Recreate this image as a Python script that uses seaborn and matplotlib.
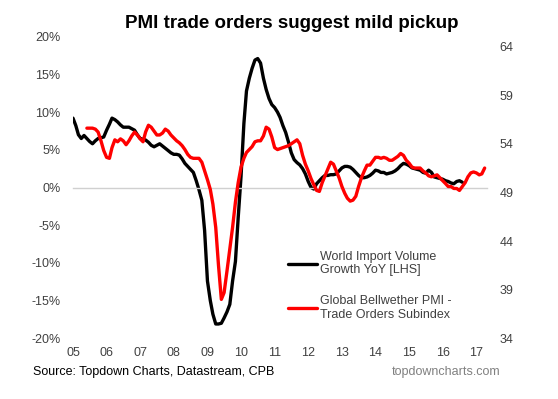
import pandas as pd
import matplotlib.pyplot as plt
import seaborn as sns

# === Data (monthly) ===
# World import volume growth YoY, %, Jan 2005 - Aug 2016
import_growth = [
    9.2, 8.2, 7.0, 6.5, 6.9, 6.5, 6.1, 5.8, 6.2, 6.5, 6.6, 6.7,
    7.6, 8.4, 9.2, 9.0, 8.7, 8.3, 8.0, 8.0, 8.0, 7.8, 7.6, 7.0,
    6.5, 6.4, 6.3, 6.0, 5.6, 5.4, 5.6, 5.8, 5.5, 5.2, 4.9, 4.6,
    4.4, 4.4, 4.3, 3.8, 3.2, 2.8, 2.4, 2.0, 0.9, -0.3, -1.7, -5.7,
    -12.4, -15.0, -16.8, -18.1, -18.1, -18.0, -17.3, -16.5, -15.5, -12.4, -9.8, -4.0,
    1.5, 8.5, 12.8, 14.5, 15.8, 16.9, 17.1, 16.5, 14.5, 13.0, 11.8, 11.0,
    10.6, 10.0, 9.3, 8.2, 7.3, 6.0, 4.6, 3.7, 3.3, 3.0, 2.5, 1.8,
    0.8, 0.0, -0.2, 0.5, 0.9, 1.3, 1.6, 1.6, 1.7, 1.7, 1.8, 2.2,
    2.6, 2.8, 2.8, 2.7, 2.4, 2.0, 1.6, 1.3, 1.3, 1.4, 1.6, 1.9,
    2.3, 2.2, 2.0, 2.0, 1.8, 1.9, 2.0, 2.2, 2.5, 2.9, 3.2, 3.1,
    2.9, 2.6, 2.5, 2.4, 2.3, 2.0, 1.9, 2.3, 2.0, 1.4, 1.3, 1.2,
    1.1, 0.9, 0.8, 0.6, 0.5, 0.8, 0.9, 0.7,
]
# Global Bellwether PMI - trade orders subindex, Jun 2005 - Apr 2017
pmi_trade = [
    55.6, 55.6, 55.6, 55.5, 55.2, 54.3, 53.3,
    52.6, 52.5, 53.6, 54.4, 54.2, 54.5, 54.3, 53.9, 54.3, 54.8, 55.2, 54.9,
    54.5, 54.2, 55.2, 55.9, 55.7, 55.3, 54.9, 54.9, 55.1, 55.5, 55.3, 54.9,
    54.6, 54.3, 54.1, 53.8, 53.4, 52.9, 52.6, 52.5, 52.5, 52.5, 52.1, 51.2,
    50.3, 49.3, 47.8, 45.4, 41.5, 38.0, 38.7, 40.9, 43.2, 45.4, 48.0, 50.0,
    51.6, 52.5, 53.1, 53.4, 53.7, 54.2, 54.3, 54.3, 54.8, 55.7, 55.5, 54.7,
    53.6, 53.4, 53.5, 53.6, 53.7, 53.8, 54.0, 54.2, 54.4, 54.0, 52.8, 51.9,
    51.2, 50.4, 49.8, 49.2, 49.1, 50.0, 50.7, 51.4, 52.1, 51.9, 51.2, 50.5,
    49.6, 48.9, 48.4, 48.1, 48.2, 48.6, 49.6, 50.5, 51.2, 51.8, 51.8, 52.2,
    52.6, 52.6, 52.5, 52.6, 52.5, 52.3, 52.3, 52.5, 52.7, 53.0, 52.8, 52.3,
    52.0, 51.6, 51.5, 51.5, 51.5, 51.2, 51.0, 50.7, 50.6, 50.7, 50.8, 50.5,
    50.2, 49.9, 49.6, 49.6, 49.4, 49.4, 49.2, 49.6, 50.0, 50.6, 51.0, 51.1,
    51.0, 50.8, 50.9, 51.5,
]
year_labels = ["05", "06", "07", "08", "09", "10", "11", "12", "13", "14", "15", "16", "17"]
left_ticks = [-20, -15, -10, -5, 0, 5, 10, 15, 20]
right_ticks = [34, 39, 44, 49, 54, 59, 64]

black_df = pd.DataFrame({
    "date": pd.date_range("2005-01-01", periods=len(import_growth), freq="MS"),
    "value": import_growth,
})
red_df = pd.DataFrame({
    "date": pd.date_range("2005-06-01", periods=len(pmi_trade), freq="MS"),
    "value": pmi_trade,
})
year_ticks = pd.date_range("2005-01-01", "2017-01-01", freq="YS")

# === Style ===
sns.set_style("white")
plt.rcParams['font.family'] = ['Liberation Sans', 'DejaVu Sans']
plt.rcParams['axes.unicode_minus'] = False
TXT = "#404040"
AXIS_GREY = "#d0d0d0"

fig = plt.figure(figsize=(5.58, 3.99), dpi=100)
ax = fig.add_axes([0.1308, 0.1521, 0.7419, 0.7559])

sns.lineplot(data=black_df, x="date", y="value", ax=ax, color="black",
             linewidth=2.4, legend=False)
ax2 = ax.twinx()
sns.lineplot(data=red_df, x="date", y="value", ax=ax2, color="#ff0000",
             linewidth=2.4, legend=False)

ax.set_xlim(pd.Timestamp("2005-01-01"), pd.Timestamp("2017-04-26"))
ax.set_ylim(-20, 20)
ax2.set_ylim(34, 65)

for a in (ax, ax2):
    for s in a.spines.values():
        s.set_visible(False)
    a.set_xlabel("")
    a.set_ylabel("")

# zero line with year ticks
ax.spines['bottom'].set_visible(True)
ax.spines['bottom'].set_position(('data', 0))
ax.spines['bottom'].set_color(AXIS_GREY)
ax.spines['bottom'].set_linewidth(1.0)
ax.set_xticks(year_ticks)
ax.tick_params(axis='x', direction='out', length=3, width=1.0, color=AXIS_GREY,
               labelbottom=False)

# year labels at the bottom, from the twin axis
ax2.xaxis.set_visible(True)
ax2.set_xticks(year_ticks)
ax2.set_xticklabels(year_labels)
ax2.tick_params(axis='x', length=0, labelbottom=True, pad=6, labelsize=9,
                labelcolor=TXT)

ax.set_yticks(left_ticks)
ax.set_yticklabels([f"{v}%" for v in left_ticks])
ax.tick_params(axis='y', length=0, pad=9, labelsize=9, labelcolor=TXT)
ax2.set_yticks(right_ticks)
ax2.tick_params(axis='y', length=0, pad=9, labelsize=9, labelcolor=TXT)

# legend
handles = [ax.get_lines()[0], ax2.get_lines()[0]]
labels = ["World Import Volume\nGrowth YoY [LHS]",
          "Global Bellwether PMI -\nTrade Orders Subindex"]
fig.legend(handles, labels, loc="upper left", bbox_to_anchor=(0.516, 0.372),
           frameon=False, fontsize=9, labelcolor=TXT, handlelength=2.3,
           handletextpad=0.25, labelspacing=1.5, borderpad=0, borderaxespad=0)

fig.text(0.523, 1 - 23 / 399, "PMI trade orders suggest mild pickup",
         ha="center", va="center", fontsize=13.5, fontweight="bold", color="black")
fig.text(33 / 558, 1 - 372 / 399, "Source: Topdown Charts, Datastream, CPB",
         ha="left", va="center", fontsize=9, color="black")
fig.text(500 / 558, 1 - 372 / 399, "topdowncharts.com",
         ha="right", va="center", fontsize=9, color="#808080")

fig.savefig("out.png", dpi=100)
plt.close(fig)
